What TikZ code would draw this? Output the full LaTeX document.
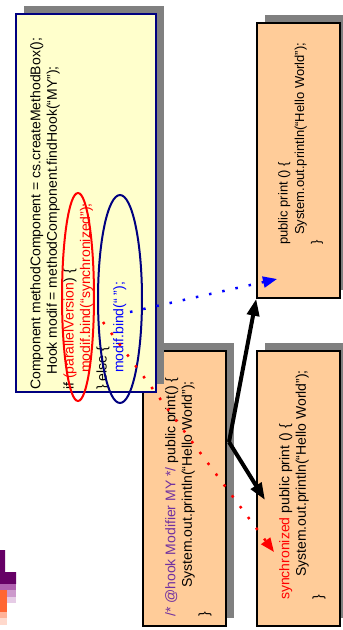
\documentclass[tikz,border=0pt]{standalone}
\usepackage{fontspec}
\setmainfont{Liberation Sans}
\usetikzlibrary{arrows.meta,shapes.geometric,shadows}

\definecolor{notepad}{HTML}{FFFFCC}
\definecolor{peach}{HTML}{FFCC99}
\definecolor{navy}{HTML}{000080}
\definecolor{shade}{HTML}{808080}
\definecolor{hookpurple}{HTML}{7030A0}
\definecolor{logoplum}{HTML}{660066}
\definecolor{logomauve}{HTML}{B060B0}
\definecolor{logolilac}{HTML}{CC99CC}
\definecolor{logopale}{HTML}{E6CCE6}
\definecolor{logoorange}{HTML}{FF6633}
\definecolor{logosalmon}{HTML}{FFB399}
\definecolor{logoblush}{HTML}{FFD9CC}

\begin{document}
\begin{tikzpicture}[x=1pt,y=-1pt,
	slab/.style={line width=1.5pt, inner sep=0pt,
		drop shadow={shadow xshift=8pt, shadow yshift=8pt, fill=shade, opacity=1}},
	codebox/.style={slab, draw=black, fill=peach, minimum width=83pt, minimum height=275pt},
	code/.style={rotate=90, anchor=north west, align=left, inner sep=0pt,
		font=\fontsize{14}{16.6}\selectfont},
	ring/.style={ellipse, draw=#1, line width=2pt, inner sep=0pt},
	dotline/.style={line width=2.5pt, dash pattern=on 2.5pt off 11pt,
		-{Triangle[length=14pt,width=11pt]}},
	fatarrow/.style={line width=4pt, -{Triangle[length=17pt,width=12pt]}}]
	\useasboundingbox (0,0) rectangle (343,630);

	% corner logo
	\fill[logoplum] (0,550) rectangle (5,572) (0,572) rectangle (16,584);
	\fill[logomauve] (0,584) rectangle (16,590);
	\fill[logolilac] (7,590) rectangle (16,597);
	\fill[logopale] (7,597) rectangle (16,603);
	\fill[logoorange] (0,590) rectangle (7,612);
	\fill[logosalmon] (0,612) rectangle (7,618);
	\fill[logoblush] (0,618) rectangle (7,625);

	% the two generated methods
	\node[codebox] (plainprint) at (298.5,160.5) {};
	\node[codebox] (syncprint) at (298.5,488.5) {};
	\node[code, font=\fontsize{13}{16.4}\selectfont] (plaintxt) at (278,245) {public print () \{\\
		\hspace*{10pt}System.out.println(“Hello World”);\\
		\}};
	\node[code] (synctxt) at (279,600) {\textcolor{red}{synchronized} public print () \{\\
		\hspace*{23pt}System.out.println(“Hello World”);\\
		\}};

	% annotated source
	\node[codebox] (hooked) at (184.5,488.5) {};
	\node[code] (hookedtxt) at (165,617) {\textcolor{hookpurple}{/* @hook Modifier MY */} public print() \{\\
		\hspace*{29pt}System.out.println(“Hello World”);\\
		\}};

	% configuration code
	\node[slab, draw=navy, fill=notepad, minimum width=140pt, minimum height=378pt] (setup) at (86,203) {};
	\node[code] (setuptxt) at (30,390) {Component methodComponent = cs.createMethodBox();\\
		\hspace*{15pt}Hook modif = methodComponent.findHook(“MY”);\\
		if \textcolor{red}{(parallelVersion}) \{\\
		\hspace*{17pt}\textcolor{red}{modif.bind(“synchronized”);}\\
		\} else \{\\
		\hspace*{17pt}\textcolor{blue}{modif.bind(“ ”);}};

	\node[ring=red, minimum width=32pt, minimum height=208pt] (synccase) at (78,297) {};
	\node[ring=navy, minimum width=44pt, minimum height=208pt] (blankcase) at (120,299) {};

	% weaving
	\coordinate (fork) at (229,442);
	\coordinate (syncin) at (265,500);
	\draw[fatarrow] (fork) -- (plainprint.south west);
	\draw[fatarrow] (fork) -- (syncin);

	\coordinate (blankbind) at (130,312);
	\coordinate (plainin) at (277,279);
	\coordinate (syncbind) at (103,322);
	\coordinate (syncmark) at (274,552);
	\draw[dotline, blue] (blankbind) -- (plainin);
	\draw[dotline, red] (syncbind) -- (syncmark);
\end{tikzpicture}
\end{document}
